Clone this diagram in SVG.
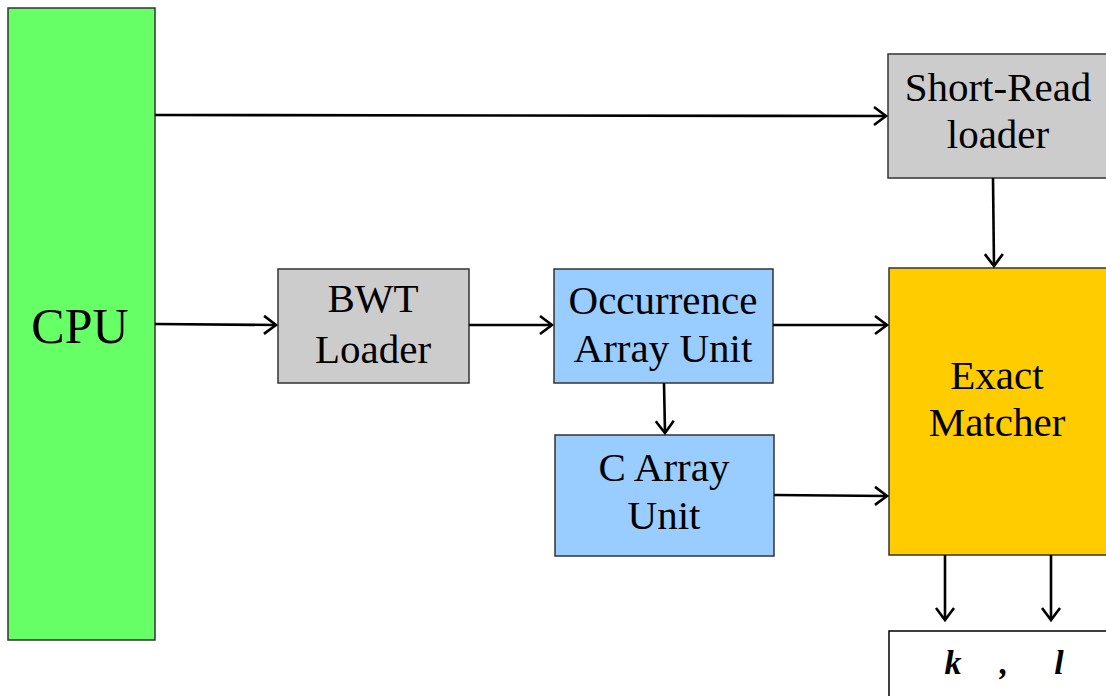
<svg xmlns="http://www.w3.org/2000/svg" width="1106" height="696" viewBox="0 0 1106 696">
  <style>
    .box { stroke: #333333; stroke-width: 1.5; }
    .lbl { font-family: "Liberation Serif", "Times New Roman", serif; font-size: 41px; fill: #000; text-anchor: middle; }
    .wire { stroke: #000; stroke-width: 2.6; fill: none; marker-end: url(#head); }
    .var { font-family: "Liberation Serif", serif; font-style: italic; font-weight: bold; font-size: 34px; fill: #000; text-anchor: middle; }
  </style>
  <defs>
    <marker id="head" markerWidth="18" markerHeight="22" refX="14" refY="11" orient="auto" markerUnits="userSpaceOnUse">
      <path d="M2,2 L14,11 L2,20" fill="none" stroke="#000" stroke-width="2.6"/>
    </marker>
  </defs>
  <rect width="1106" height="696" fill="#ffffff"/>

  <g id="cpu">
    <rect class="box" x="8" y="8" width="147" height="632" fill="#66ff66"/>
    <text class="lbl" x="80" y="343" style="font-size:50px">CPU</text>
  </g>

  <g id="short-read-loader">
    <rect class="box" x="888" y="54" width="230" height="124" fill="#cccccc"/>
    <text class="lbl" x="998" y="101">Short-Read</text>
    <text class="lbl" x="998" y="148">loader</text>
  </g>

  <g id="bwt-loader">
    <rect class="box" x="278" y="269" width="191" height="114" fill="#cccccc"/>
    <text class="lbl" x="373" y="312">BWT</text>
    <text class="lbl" x="373" y="363">Loader</text>
  </g>

  <g id="occurrence-array-unit">
    <rect class="box" x="554" y="269" width="219" height="114" fill="#99ccff"/>
    <text class="lbl" x="663" y="314">Occurrence</text>
    <text class="lbl" x="663" y="362">Array Unit</text>
  </g>

  <g id="c-array-unit">
    <rect class="box" x="555" y="435" width="219" height="121" fill="#99ccff"/>
    <text class="lbl" x="664" y="481">C Array</text>
    <text class="lbl" x="664" y="529">Unit</text>
  </g>

  <g id="exact-matcher">
    <rect class="box" x="889" y="268" width="230" height="287" fill="#ffcc00"/>
    <text class="lbl" x="997" y="389">Exact</text>
    <text class="lbl" x="997" y="436">Matcher</text>
  </g>

  <g id="result">
    <rect x="889" y="631" width="230" height="80" fill="#ffffff" stroke="#000" stroke-width="1.5"/>
    <text class="var" x="953" y="674">k</text>
    <text class="var" x="1004" y="674">,</text>
    <text class="var" x="1059" y="674">l</text>
  </g>

  <g id="connectors">
    <line class="wire" x1="155" y1="115" x2="886" y2="116"/>
    <line class="wire" x1="155" y1="324" x2="276" y2="325"/>
    <line class="wire" x1="469" y1="325" x2="552" y2="325"/>
    <line class="wire" x1="773" y1="325" x2="887" y2="325"/>
    <line class="wire" x1="774" y1="495" x2="887" y2="496"/>
    <line class="wire" x1="664" y1="383" x2="665" y2="433"/>
    <line class="wire" x1="993" y1="178" x2="994" y2="266"/>
    <line class="wire" x1="945" y1="555" x2="945" y2="620"/>
    <line class="wire" x1="1051" y1="555" x2="1051" y2="620"/>
  </g>
</svg>
